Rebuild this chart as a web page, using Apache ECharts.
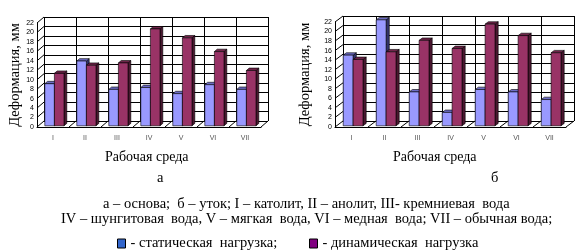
<!DOCTYPE html>
<html>
<head>
<meta charset="utf-8">
<script src="https://cdn.jsdelivr.net/npm/echarts@6/dist/echarts.min.js"></script>
<style>
  html, body { margin: 0; padding: 0; background: #fff; }
  #chart { width: 584px; height: 252px; }
</style>
</head>
<body>
<div id="chart"></div>
<script>
// Рабочая среда
const categories = ['I', 'II', 'III', 'IV', 'V', 'VI', 'VII']
const yTicks = [0, 2, 4, 6, 8, 10, 12, 14, 16, 18, 20, 22]

// а – основа
const warpStatic = [8.9, 13.7, 7.7, 8.1, 6.8, 8.7, 7.7]
const warpDynamic = [11.1, 12.8, 13.3, 20.5, 18.6, 15.7, 11.7]
// б – уток
const weftStatic = [14.8, 22.2, 7.1, 2.8, 7.6, 7.1, 5.5]
const weftDynamic = [13.9, 15.5, 17.9, 16.2, 21.3, 18.9, 15.3]

const staticName = '- статическая  нагрузка;'
const dynamicName = '- динамическая  нагрузка'

const serif = '"Times New Roman", "Liberation Serif", serif'
const capFont = '14.5px ' + serif

// front plane of each pseudo-3d box, back wall is shifted by dx/dy
const boxes = [
  { left: 37, top: 23, width: 224, height: 104, dx: 7, dy: 6, nameGap: 13 },
  { left: 335, top: 22, width: 231, height: 105, dx: 8, dy: 6, nameGap: 22 },
]

const colors = {
  static: { front: '#9999ff', top: '#6b6bc4', side: '#33336b' },
  dynamic: { front: '#993366', top: '#6e2449', side: '#4a1830' },
}

const grids = []
const xAxes = []
const yAxes = []
const series = []

boxes.forEach((b, k) => {
  // front plane
  grids.push({ left: b.left, top: b.top, width: b.width, height: b.height })
  // back wall
  grids.push({ left: b.left + b.dx, top: b.top - b.dy, width: b.width, height: b.height })

  xAxes.push({
    type: 'category', gridIndex: 2 * k, data: categories,
    axisLine: { lineStyle: { color: '#000', width: 1 } },
    axisTick: { show: false },
    axisLabel: { fontSize: 7, color: '#555', margin: 8, fontFamily: 'Arial, "Liberation Sans", sans-serif' },
    splitLine: { show: false },
  })
  xAxes.push({
    type: 'category', gridIndex: 2 * k + 1, data: categories,
    axisLine: { show: false }, axisTick: { show: false }, axisLabel: { show: false },
    splitLine: { show: true, lineStyle: { color: '#000', width: 1 } },
  })
  yAxes.push({
    type: 'value', gridIndex: 2 * k, min: 0, max: 22, interval: 2,
    axisLine: { show: true, lineStyle: { color: '#000', width: 1 } },
    axisTick: { show: false },
    axisLabel: { fontSize: 7, color: '#000', margin: 3, fontFamily: 'Arial, "Liberation Sans", sans-serif' },
    splitLine: { show: false },
    name: 'Деформация, мм', nameLocation: 'middle', nameRotate: 90, nameGap: b.nameGap,
    nameTextStyle: { fontFamily: serif, fontSize: 14.5, color: '#000' },
  })
  yAxes.push({
    type: 'value', gridIndex: 2 * k + 1, min: 0, max: 22, interval: 2,
    axisLine: { show: false }, axisTick: { show: false }, axisLabel: { show: false },
    splitLine: { show: true, lineStyle: { color: '#000', width: 1 } },
  })

  // diagonals from front to back wall + floor marks
  series.push({
    type: 'custom', xAxisIndex: 2 * k, yAxisIndex: 2 * k, silent: true, z: 1,
    data: yTicks.map(v => [0, v]),
    renderItem(params, api) {
      const v = api.value(1)
      const band = api.size([1, 0])[0]
      const p = api.coord([0, v])
      const style = { stroke: '#000', lineWidth: 1 }
      const children = []
      const x0 = p[0] - band / 2
      children.push({ type: 'line', shape: { x1: x0, y1: p[1], x2: x0 + b.dx, y2: p[1] - b.dy }, style })
      if (v === 0) {
        for (let i = 1; i <= categories.length; i++) {
          const x = x0 + band * i
          children.push({ type: 'line', shape: { x1: x, y1: p[1], x2: x + b.dx, y2: p[1] - b.dy }, style })
        }
      }
      return { type: 'group', children }
    },
  })

  const pairs = k === 0 ? [warpStatic, warpDynamic] : [weftStatic, weftDynamic]
  ;[['static', staticName], ['dynamic', dynamicName]].forEach(([key, name], j) => {
    const c = colors[key]
    series.push({
      type: 'custom', name, xAxisIndex: 2 * k, yAxisIndex: 2 * k, z: 3 + j,
      itemStyle: { color: key === 'static' ? '#3366cc' : '#800080' },
      data: pairs[j].map((v, i) => [i, v]),
      renderItem(params, api) {
        const band = api.size([1, 0])[0]
        const w = band * 0.3
        const base = api.coord([api.value(0), 0])
        const topP = api.coord([api.value(0), api.value(1)])
        // bar sits a little behind the front plane
        const sx = b.dx * 0.2, sy = b.dy * 0.2
        const ddx = b.dx * 0.4, ddy = b.dy * 0.4
        const xl = base[0] + sx + (j === 0 ? -w : 0)
        const xr = xl + w
        const yb = base[1] - sy
        const yt = topP[1] - sy
        const line = { stroke: '#000', lineWidth: 0.6 }
        return {
          type: 'group',
          children: [
            { type: 'polygon', shape: { points: [[xr, yb], [xr + ddx, yb - ddy], [xr + ddx, yt - ddy], [xr, yt]] },
              style: Object.assign({ fill: c.side }, line) },
            { type: 'polygon', shape: { points: [[xl, yt], [xr, yt], [xr + ddx, yt - ddy], [xl + ddx, yt - ddy]] },
              style: Object.assign({ fill: c.top }, line) },
            { type: 'rect', shape: { x: xl, y: yt, width: w, height: yb - yt },
              style: Object.assign({ fill: c.front }, line) },
          ],
        }
      },
    })
  })
})

const legendBase = {
  top: 236, padding: 0, itemWidth: 8, itemHeight: 9, icon: 'rect', selectedMode: false,
  textStyle: { fontFamily: serif, fontSize: 14.5, color: '#000' },
}

const chart = echarts.init(document.getElementById('chart'), null, { renderer: 'canvas' })
chart.setOption({
  animation: false,
  backgroundColor: '#fff',
  grid: grids,
  xAxis: xAxes,
  yAxis: yAxes,
  series,
  legend: [
    Object.assign({ left: 117, data: [{ name: staticName, itemStyle: { color: '#3366cc', borderColor: '#000', borderWidth: 1 } }] }, legendBase),
    Object.assign({ left: 309, data: [{ name: dynamicName, itemStyle: { color: '#800080', borderColor: '#000', borderWidth: 1 } }] }, legendBase),
  ],
  graphic: [
    { type: 'text', left: 105, top: 150, style: { text: 'Рабочая среда', font: '14px ' + serif, fill: '#000' } },
    { type: 'text', left: 393, top: 150, style: { text: 'Рабочая среда', font: '14px ' + serif, fill: '#000' } },
    { type: 'text', left: 157, top: 171, style: { text: 'а', font: capFont, fill: '#000' } },
    { type: 'text', left: 491, top: 171, style: { text: 'б', font: capFont, fill: '#000' } },
    { type: 'text', left: 103, top: 197, style: { text: 'а – основа;  б – уток; I – католит, II – анолит, III- кремниевая  вода', font: capFont, fill: '#000' } },
    { type: 'text', left: 61, top: 212, style: { text: 'IV – шунгитовая  вода, V – мягкая  вода, VI – медная  вода; VII – обычная вода;', font: capFont, fill: '#000' } },
  ],
})
</script>
</body>
</html>
